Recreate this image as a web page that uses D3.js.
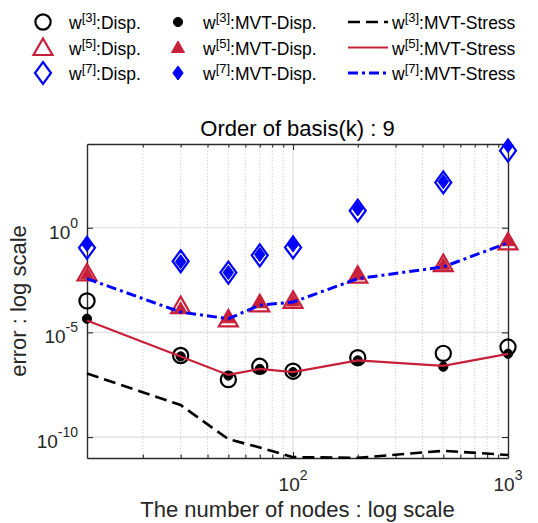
<!DOCTYPE html>
<html>
<head>
<meta charset="utf-8">
<script src="https://cdn.jsdelivr.net/npm/d3@7"></script>
<style>
  body { margin: 0; background: #fff; }
  svg { display: block; font-family: "Liberation Sans", Arial, sans-serif; }
</style>
</head>
<body>
<svg id="chart" width="538" height="523"></svg>
<script>
// Number of nodes (x values)
const nodes = [11, 30, 50, 70, 100, 200, 500, 1000];

// Errors for each weight order and method
const w3Disp      = [3.2e-4, 7.9e-7, 5.6e-8, 2.4e-7, 1.4e-7, 6.2e-7, 1.0e-6, 2.0e-6];
const w5Disp      = [6.9e-3, 1.9e-4, 4.4e-5, 2.3e-4, 3.4e-4, 5.4e-3, 1.95e-2, 0.21];
const w7Disp      = [0.11, 0.025, 7.2e-3, 0.048, 0.115, 6.5, 145, 4800];
const w3MvtDisp   = [4.5e-5, 7.1e-7, 8.7e-8, 1.8e-7, 1.26e-7, 4.6e-7, 2.3e-7, 9.5e-7];
const w5MvtDisp   = [6.3e-3, 1.4e-4, 5.0e-5, 2.6e-4, 3.2e-4, 5.6e-3, 1.8e-2, 0.24];
const w7MvtDisp   = [0.16, 0.024, 7.2e-3, 0.052, 0.15, 7.9, 158, 8300];
const w3MvtStress = [1.1e-7, 3.4e-9, 7.9e-11, 3.2e-11, 1.1e-11, 1.02e-11, 2.2e-11, 1.4e-11];
const w5MvtStress = [3.7e-5, 7.1e-7, 9.3e-8, 1.8e-7, 1.26e-7, 4.6e-7, 2.5e-7, 9.5e-7];
const w7MvtStress = [3.7e-3, 9.3e-5, 4.5e-5, 2.0e-4, 2.8e-4, 3.7e-3, 1.35e-2, 0.19];

// Axis ticks
const xMajorTicks = [100, 1000];
const xTickExps = ["2", "3"];
const xMinorTicks = [20, 30, 40, 50, 60, 70, 80, 90, 200, 300, 400, 500, 600, 700, 800, 900];
const yMajorTicks = [1e-10, 1e-5, 1];
const yTickExps = ["-10", "-5", "0"];

const titleText = "Order of basis(k) : 9";
const xLabelText = "The number of nodes : log scale";
const yLabelText = "error : log scale";

const RED = "#C8203A", BLUE = "#0000FF", BLACK = "#000000";

// Series: plotted in this order, legend is column-major in the same order
const series = [
  { sup: "[3]", name: ":Disp.",        values: w3Disp,      kind: "marker", shape: "circle",   fill: false, color: BLACK },
  { sup: "[5]", name: ":Disp.",        values: w5Disp,      kind: "marker", shape: "triangle", fill: false, color: RED },
  { sup: "[7]", name: ":Disp.",        values: w7Disp,      kind: "marker", shape: "diamond",  fill: false, color: BLUE },
  { sup: "[3]", name: ":MVT-Disp.",    values: w3MvtDisp,   kind: "marker", shape: "circle",   fill: true,  color: BLACK },
  { sup: "[5]", name: ":MVT-Disp.",    values: w5MvtDisp,   kind: "marker", shape: "triangle", fill: true,  color: RED },
  { sup: "[7]", name: ":MVT-Disp.",    values: w7MvtDisp,   kind: "marker", shape: "diamond",  fill: true,  color: BLUE },
  { sup: "[3]", name: ":MVT-Stress",   values: w3MvtStress, kind: "line", dash: "12,6",      width: 2.6, color: BLACK },
  { sup: "[5]", name: ":MVT-Stress",   values: w5MvtStress, kind: "line", dash: null,        width: 2.2, color: RED },
  { sup: "[7]", name: ":MVT-Stress",   values: w7MvtStress, kind: "line", dash: "10,4,3,4",  width: 3,   color: BLUE }
];

const svg = d3.select("#chart");
const plot = { left: 87, right: 508, top: 144, bottom: 458 };

const x = d3.scaleLog().domain([11, 1000]).range([plot.left, plot.right]);
const y = d3.scaleLog().domain([1e-11, 1e4]).range([plot.bottom, plot.top]);

// ---- grid ----
const grid = svg.append("g");
grid.selectAll("line.xminor").data(xMinorTicks).join("line")
  .attr("x1", d => x(d)).attr("x2", d => x(d))
  .attr("y1", plot.top).attr("y2", plot.bottom)
  .attr("stroke", "#c4c4c4").attr("stroke-width", 0.9).attr("stroke-dasharray", "1.2,2");
grid.selectAll("line.xmajor").data(xMajorTicks.filter(d => d < 1000)).join("line")
  .attr("x1", d => x(d)).attr("x2", d => x(d))
  .attr("y1", plot.top).attr("y2", plot.bottom)
  .attr("stroke", "#dedede").attr("stroke-width", 1.2);
grid.selectAll("line.ymajor").data(yMajorTicks).join("line")
  .attr("x1", plot.left).attr("x2", plot.right)
  .attr("y1", d => y(d)).attr("y2", d => y(d))
  .attr("stroke", "#dedede").attr("stroke-width", 1.2);

// ---- axes (ticks point inward on all four sides) ----
const axisColor = "#2b2b2b";
function styleAxis(g) {
  g.selectAll("path.domain").attr("stroke", axisColor).attr("stroke-width", 1.4);
  g.selectAll(".tick line").attr("stroke", axisColor).attr("stroke-width", 1.1);
  g.selectAll(".tick text").remove();
}
svg.append("g").attr("transform", `translate(0,${plot.bottom})`)
  .call(d3.axisBottom(x).tickValues(xMajorTicks).tickSizeInner(-6).tickSizeOuter(0)).call(styleAxis);
svg.append("g").attr("transform", `translate(0,${plot.top})`)
  .call(d3.axisTop(x).tickValues(xMajorTicks).tickSizeInner(-6).tickSizeOuter(0)).call(styleAxis);
svg.append("g").attr("transform", `translate(0,${plot.bottom})`)
  .call(d3.axisBottom(x).tickValues(xMinorTicks).tickSizeInner(-3.5).tickSizeOuter(0)).call(styleAxis)
  .select("path.domain").remove();
svg.append("g").attr("transform", `translate(0,${plot.top})`)
  .call(d3.axisTop(x).tickValues(xMinorTicks).tickSizeInner(-3.5).tickSizeOuter(0)).call(styleAxis)
  .select("path.domain").remove();
svg.append("g").attr("transform", `translate(${plot.left},0)`)
  .call(d3.axisLeft(y).tickValues(yMajorTicks).tickSizeInner(-6).tickSizeOuter(0)).call(styleAxis);
svg.append("g").attr("transform", `translate(${plot.right},0)`)
  .call(d3.axisRight(y).tickValues(yMajorTicks).tickSizeInner(-6).tickSizeOuter(0)).call(styleAxis);

// tick labels as 10 with a raised exponent
const textColor = "#262626";
xMajorTicks.forEach((v, i) => {
  const t = svg.append("text").attr("x", x(v)).attr("y", plot.bottom + 33)
    .attr("text-anchor", "middle").attr("fill", textColor).attr("font-size", 19);
  t.append("tspan").text("10");
  t.append("tspan").attr("dy", -11).attr("font-size", 14).text(xTickExps[i]);
});
yMajorTicks.forEach((v, i) => {
  const t = svg.append("text").attr("x", plot.left - 9).attr("y", y(v) + 11)
    .attr("text-anchor", "end").attr("fill", textColor).attr("font-size", 19);
  t.append("tspan").text("10");
  t.append("tspan").attr("dy", -11).attr("font-size", 14).text(yTickExps[i]);
});

// title and axis labels
svg.append("text").attr("x", (plot.left + plot.right) / 2).attr("y", 136)
  .attr("text-anchor", "middle").attr("font-size", 22).attr("fill", "#000").text(titleText);
svg.append("text").attr("x", (plot.left + plot.right) / 2).attr("y", 517)
  .attr("text-anchor", "middle").attr("font-size", 22).attr("fill", textColor).text(xLabelText);
svg.append("text").attr("transform", `translate(26,${(plot.top + plot.bottom) / 2}) rotate(-90)`)
  .attr("text-anchor", "middle").attr("font-size", 22).attr("fill", textColor).text(yLabelText);

// ---- marker shapes ----
function markerPath(shape, filled) {
  if (shape === "triangle") {
    return filled ? "M0,-6.5L6.5,5L-6.5,5Z" : "M0,-9L9.5,7.5L-9.5,7.5Z";
  }
  if (shape === "diamond") {
    return filled ? "M0,-7L5.2,0L0,7L-5.2,0Z" : "M0,-11L8,0L0,11L-8,0Z";
  }
  return null;
}
function drawMarker(g, s, cx, cy) {
  if (s.shape === "circle") {
    g.append("circle").attr("cx", cx).attr("cy", cy)
      .attr("r", s.fill ? 4.6 : 7.6)
      .attr("fill", s.fill ? s.color : "none")
      .attr("stroke", s.color).attr("stroke-width", s.fill ? 1 : 2.2);
  } else {
    g.append("path").attr("transform", `translate(${cx},${cy})`)
      .attr("d", markerPath(s.shape, s.fill))
      .attr("fill", s.fill ? s.color : "none")
      .attr("stroke", s.color).attr("stroke-width", s.fill ? 1 : 2.2)
      .attr("stroke-linejoin", "miter");
  }
}

// ---- data ----
const dataG = svg.append("g");
const line = d3.line().x((d, i) => x(nodes[i])).y(d => y(d));
series.forEach(s => {
  if (s.kind === "marker") {
    const g = dataG.append("g");
    s.values.forEach((v, i) => drawMarker(g, s, x(nodes[i]), y(v)));
  } else {
    dataG.append("path").datum(s.values)
      .attr("d", line).attr("fill", "none")
      .attr("stroke", s.color).attr("stroke-width", s.width)
      .attr("stroke-dasharray", s.dash);
  }
});

// ---- legend (three columns, column-major) ----
const legCols = [
  { mark: 43, text: 69 },
  { mark: 178, text: 203 },
  { mark: 368, text: 392 }
];
const legRows = [22, 47.5, 73];
const legend = svg.append("g");
series.forEach((s, k) => {
  const col = legCols[Math.floor(k / 3)], cy = legRows[k % 3];
  if (s.kind === "marker") {
    drawMarker(legend, s, col.mark, cy);
  } else {
    legend.append("line").attr("x1", col.mark - 20).attr("x2", col.mark + 20)
      .attr("y1", cy).attr("y2", cy)
      .attr("stroke", s.color).attr("stroke-width", s.width)
      .attr("stroke-dasharray", s.dash);
  }
  const t = legend.append("text").attr("x", col.text).attr("y", cy + 7)
    .attr("font-size", 17.5).attr("fill", "#000");
  t.append("tspan").text("w");
  t.append("tspan").attr("dy", -7).attr("font-size", 13).text(s.sup);
  t.append("tspan").attr("dy", 7).text(s.name);
});
</script>
</body>
</html>
